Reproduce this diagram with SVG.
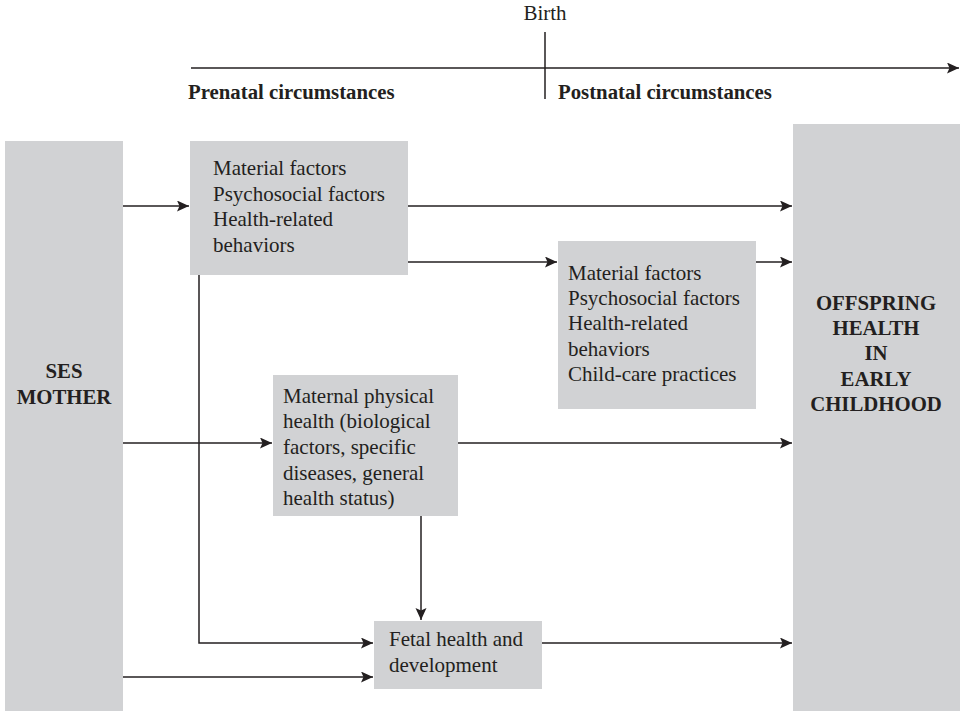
<svg xmlns="http://www.w3.org/2000/svg" width="960" height="711" viewBox="0 0 960 711">
  <defs>
    <marker id="arrow" markerUnits="userSpaceOnUse" markerWidth="13" markerHeight="12" refX="12" refY="5.5" orient="auto">
      <path d="M0,0 L12,5.5 L0,11 L2.5,5.5 Z" fill="#231f20"/>
    </marker>
  </defs>
  <style>
    .box { fill: #d1d2d4; }
    .t { font-family: "Liberation Serif", "Times New Roman", serif; font-size: 21px; fill: #231f20; }
    .b { font-family: "Liberation Serif", "Times New Roman", serif; font-size: 20.8px; font-weight: bold; fill: #231f20; }
    .c { text-anchor: middle; }
    .line { stroke: #231f20; stroke-width: 1.5; fill: none; }
    .arr { stroke: #231f20; stroke-width: 1.5; fill: none; marker-end: url(#arrow); }
  </style>
  <rect width="960" height="711" fill="#ffffff"/>

  <!-- time axis -->
  <g id="timeline">
    <line class="arr" x1="191" y1="68" x2="959" y2="68"/>
    <line class="line" x1="545" y1="32" x2="545" y2="99"/>
    <text class="t c" x="545" y="20">Birth</text>
    <text class="b" x="188" y="99">Prenatal circumstances</text>
    <text class="b" x="558" y="99">Postnatal circumstances</text>
  </g>

  <!-- nodes -->
  <g id="ses-mother">
    <rect class="box" x="5" y="141" width="118" height="570"/>
    <text class="b c" x="64" y="378">SES</text>
    <text class="b c" x="64" y="404">MOTHER</text>
  </g>

  <g id="prenatal-factors">
    <rect class="box" x="190" y="141" width="218" height="134"/>
    <text class="t" x="213" y="175">Material factors</text>
    <text class="t" x="213" y="201">Psychosocial factors</text>
    <text class="t" x="213" y="226">Health-related</text>
    <text class="t" x="213" y="252">behaviors</text>
  </g>

  <g id="postnatal-factors">
    <rect class="box" x="558" y="241" width="198" height="168"/>
    <text class="t" x="568" y="280">Material factors</text>
    <text class="t" x="568" y="305">Psychosocial factors</text>
    <text class="t" x="568" y="330">Health-related</text>
    <text class="t" x="568" y="356">behaviors</text>
    <text class="t" x="568" y="381">Child-care practices</text>
  </g>

  <g id="maternal-health">
    <rect class="box" x="273" y="375" width="185" height="141"/>
    <text class="t" x="283" y="403">Maternal physical</text>
    <text class="t" x="283" y="428">health (biological</text>
    <text class="t" x="283" y="454">factors, specific</text>
    <text class="t" x="283" y="480">diseases, general</text>
    <text class="t" x="283" y="505">health status)</text>
  </g>

  <g id="fetal-health">
    <rect class="box" x="374" y="621" width="168" height="68"/>
    <text class="t" x="389" y="646">Fetal health and</text>
    <text class="t" x="389" y="672">development</text>
  </g>

  <g id="offspring-health">
    <rect class="box" x="793" y="124" width="167" height="587"/>
    <text class="b c" x="876" y="310">OFFSPRING</text>
    <text class="b c" x="876" y="335">HEALTH</text>
    <text class="b c" x="876" y="360">IN</text>
    <text class="b c" x="876" y="386">EARLY</text>
    <text class="b c" x="876" y="411">CHILDHOOD</text>
  </g>

  <!-- connectors -->
  <g id="connectors">
    <line class="arr" x1="123" y1="206" x2="189" y2="206"/>
    <line class="arr" x1="408" y1="206" x2="792" y2="206"/>
    <line class="arr" x1="408" y1="262" x2="557" y2="262"/>
    <line class="arr" x1="756" y1="262" x2="792" y2="262"/>
    <line class="arr" x1="123" y1="443" x2="272" y2="443"/>
    <line class="arr" x1="458" y1="443" x2="792" y2="443"/>
    <line class="arr" x1="421" y1="516" x2="421" y2="620"/>
    <polyline class="arr" points="199,275 199,643 373,643"/>
    <line class="arr" x1="123" y1="677" x2="373" y2="677"/>
    <line class="arr" x1="542" y1="643" x2="792" y2="643"/>
  </g>
</svg>
